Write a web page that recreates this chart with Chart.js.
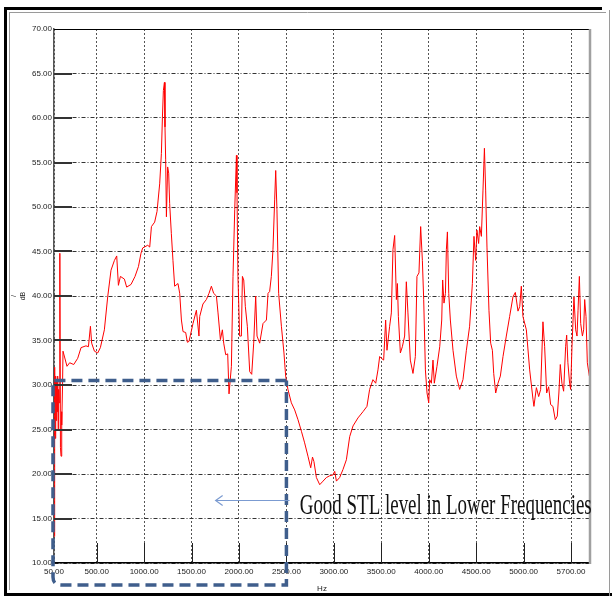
<!DOCTYPE html>
<html>
<head>
<meta charset="utf-8">
<title>STL</title>
<script src="https://cdn.jsdelivr.net/npm/chart.js@4.4.1/dist/chart.umd.min.js"></script>
<style>
  html, body { margin: 0; padding: 0; background: #fff; }
  canvas { display: block; }
</style>
</head>
<body>
<canvas id="stl" width="612" height="597"></canvas>
<script>
"use strict";

// frequency in Hz
let freqs = [
  50, 57, 63, 68, 73, 78, 84, 89, 94, 99, 105, 110, 113, 118, 124, 129, 134, 140, 145,
  187, 215, 258, 300, 335, 387, 413, 434, 447, 476, 511, 539, 581, 616, 651, 687, 711,
  729, 750, 792, 816, 862, 904, 940, 967, 985, 1038, 1059, 1077, 1111, 1136, 1164, 1182,
  1193, 1203, 1214, 1220, 1227, 1235, 1248, 1259, 1269, 1287, 1304, 1322, 1357, 1375,
  1393, 1410, 1438, 1456, 1473, 1488, 1515, 1551, 1578, 1586, 1620, 1656, 1684, 1709,
  1733, 1762, 1779, 1804, 1825, 1839, 1860, 1881, 1895, 1920, 1937, 1955, 1973, 1979,
  1989, 2007, 2025, 2036, 2050, 2067, 2088, 2113, 2134, 2155, 2176, 2190, 2218, 2253,
  2289, 2306, 2323, 2341, 2358, 2376, 2387, 2400, 2418, 2447, 2474, 2492, 2516, 2552,
  2587, 2622, 2658, 2692, 2727, 2756, 2775, 2790, 2816, 2851, 2886, 2921, 2956, 2991,
  3009, 3027, 3061, 3096, 3132, 3167, 3202, 3254, 3307, 3349, 3377, 3412, 3441, 3465,
  3483, 3501, 3525, 3546, 3560, 3588, 3606, 3623, 3641, 3659, 3670, 3680, 3701, 3722,
  3746, 3764, 3781, 3806, 3834, 3859, 3876, 3897, 3915, 3933, 3947, 3965, 3982, 4000,
  4010, 4028, 4045, 4059, 4087, 4116, 4137, 4147, 4161, 4176, 4186, 4197, 4211, 4228,
  4256, 4291, 4326, 4361, 4397, 4431, 4460, 4477, 4495, 4508, 4526, 4537, 4555, 4572,
  4587, 4600, 4614, 4635, 4653, 4671, 4685, 4706, 4730, 4755, 4783, 4818, 4853, 4888,
  4913, 4941, 4959, 4976, 4993, 5029, 5064, 5099, 5109, 5135, 5159, 5180, 5204, 5222,
  5243, 5264, 5285, 5309, 5334, 5355, 5372, 5387, 5404, 5422, 5443, 5454, 5467, 5485,
  5496, 5510, 5531, 5549, 5563, 5574, 5588, 5602, 5620, 5633, 5644, 5658, 5672, 5693
];

// sound transmission loss in dB, one per frequency above
let levels = [
  13.0, 32.0, 24.0, 31.0, 26.0, 30.5, 27.0, 31.0, 25.0, 29.5, 28.0, 33.0, 44.8, 23.0, 22.0, 27.0, 25.5, 30.0, 33.8,
  32.1, 32.5, 32.3, 33.0, 34.2, 34.4, 34.3, 36.6, 34.7, 33.8, 33.6, 34.2, 36.2, 39.9, 42.9, 44.0, 44.5,
  41.2, 42.2, 41.9, 41.0, 41.3, 42.2, 43.3, 44.8, 45.4, 45.7, 45.5, 47.8, 48.3, 49.5, 52.6, 56.0,
  60.1, 63.1, 64.0, 59.0, 55.3, 48.9, 54.5, 53.8, 50.4, 47.0, 44.0, 41.1, 41.4, 40.3,
  37.3, 36.0, 35.9, 34.8, 34.9, 35.6, 36.9, 38.4, 35.5, 37.7, 39.1, 39.6, 40.3, 41.1,
  40.3, 40.0, 38.1, 35.1, 36.2, 34.7, 33.4, 33.5, 29.0, 32.1, 42.2, 49.7, 55.8, 51.6,
  42.2, 35.5, 35.5, 42.2, 41.8, 38.8, 36.6, 31.5, 31.2, 34.7, 40.0, 35.5, 34.7, 36.9,
  37.3, 40.3, 40.5, 42.2, 45.2, 50.8, 54.1, 49.7, 40.3, 36.6, 33.6, 31.0, 29.5, 28.0,
  27.2, 26.1, 24.8, 23.5, 22.0, 20.7, 21.9, 21.4, 19.6, 18.8, 19.2, 19.6, 19.8, 19.9,
  20.3, 19.2, 19.6, 20.5, 21.6, 24.2, 25.4, 26.3, 27.0, 27.6, 29.5, 30.6, 30.2, 31.7,
  33.2, 33.0, 32.8, 37.3, 33.9, 36.6, 38.1, 45.2, 46.8, 39.6, 41.4, 37.7, 33.6, 34.3,
  35.5, 41.6, 38.1, 32.8, 31.3, 33.2, 42.2, 42.6, 47.8, 44.0, 39.6, 31.7, 29.1, 28.0,
  30.6, 30.2, 32.8, 30.2, 32.1, 34.3, 37.3, 41.8, 39.2, 40.3, 45.2, 47.2, 40.3, 37.3,
  33.9, 31.0, 29.5, 30.6, 33.9, 36.6, 41.4, 46.7, 44.0, 47.4, 45.9, 47.8, 46.7, 51.9,
  56.6, 51.9, 45.5, 38.4, 34.7, 33.9, 31.3, 29.1, 30.2, 31.0, 33.2, 35.5, 37.7, 39.9,
  40.4, 38.3, 38.8, 41.1, 37.7, 36.2, 31.7, 28.4, 27.6, 29.7, 28.7, 29.5, 37.1, 34.3,
  29.1, 29.8, 27.8, 27.6, 26.1, 26.5, 29.1, 32.3, 30.2, 29.3, 34.3, 35.6, 32.5, 30.2,
  29.5, 34.3, 39.9, 36.2, 35.5, 38.4, 42.2, 36.9, 35.5, 36.2, 39.6, 37.7, 32.5, 31.0
];

let xTickValues = [50, 500, 1000, 1500, 2000, 2500, 3000, 3500, 4000, 4500, 5000, 5500];
let xTickLabels = ['50.00', '500.00', '1000.00', '1500.00', '2000.00', '2500.00', '3000.00',
  '3500.00', '4000.00', '4500.00', '5000.00', '5700.00'];
let yTickValues = [10, 15, 20, 25, 30, 35, 40, 45, 50, 55, 60, 65, 70];

// the note box: low frequencies up to 2500 Hz, above 30.5 dB
let boxMaxHz = 2500;
let boxTopDb = 30.5;
let arrowFromHz = 2534;
let arrowToHz = 1754;
let arrowDb = 17.1;
let noteHz = 2640;
let noteDb = 15.5;
let noteText = 'Good STL level in Lower Frequencies';

let tickFont = { family: "'Liberation Sans Narrow', 'Liberation Sans', Arial, sans-serif", size: 8 };

let points = [];
for (let i = 0; i < freqs.length; i++) {
  points.push({ x: freqs[i], y: levels[i] });
}

let decorations = {
  id: 'decorations',
  beforeDraw(chart) {
    let ctx = chart.ctx;
    ctx.save();
    ctx.fillStyle = '#fff';
    ctx.fillRect(0, 0, chart.width, chart.height);
    // outer window frame
    ctx.fillStyle = '#000';
    ctx.fillRect(4, 7, 3, 589);
    ctx.fillRect(4, 7, 598, 3);
    ctx.fillRect(4, 593, 608, 3);
    ctx.strokeStyle = '#9a9a9a';
    ctx.lineWidth = 1;
    ctx.beginPath();
    ctx.moveTo(609.5, 10);
    ctx.lineTo(609.5, 596);
    ctx.moveTo(9.5, 12);
    ctx.lineTo(9.5, 590);
    ctx.moveTo(9, 12.5);
    ctx.lineTo(606, 12.5);
    ctx.stroke();
    ctx.restore();
  },
  afterDatasetsDraw(chart) {
    let ctx = chart.ctx;
    let xs = chart.scales.x;
    let ys = chart.scales.y;
    let area = chart.chartArea;
    ctx.save();

    // long solid ticks reaching into the plot
    ctx.strokeStyle = '#333';
    ctx.lineWidth = 2;
    yTickValues.forEach(function (v) {
      if (v === 10 || v === 70) return;
      let py = Math.round(ys.getPixelForValue(v));
      ctx.beginPath();
      ctx.moveTo(area.left, py);
      ctx.lineTo(area.left + 18, py);
      ctx.stroke();
    });
    ctx.strokeStyle = '#222';
    ctx.lineWidth = 1;
    xTickValues.slice(1).forEach(function (v) {
      let px = Math.round(xs.getPixelForValue(v)) + 0.5;
      ctx.beginPath();
      ctx.moveTo(px, area.bottom);
      ctx.lineTo(px, area.bottom - 20);
      ctx.stroke();
    });

    // top and right edges of the plot
    ctx.strokeStyle = '#000';
    ctx.lineWidth = 1;
    ctx.beginPath();
    ctx.moveTo(area.left, Math.round(area.top) + 0.5);
    ctx.lineTo(area.right, Math.round(area.top) + 0.5);
    ctx.stroke();
    ctx.strokeStyle = '#a0a0a0';
    ctx.lineWidth = 2.5;
    ctx.beginPath();
    ctx.moveTo(area.right, area.top);
    ctx.lineTo(area.right, area.bottom + 1);
    ctx.stroke();

    // dashed box round the low frequencies
    let left = xs.getPixelForValue(50) - 1;
    let right = xs.getPixelForValue(boxMaxHz);
    let top = ys.getPixelForValue(boxTopDb);
    let bottom = area.bottom + 22;
    ctx.strokeStyle = '#3f5e8c';
    ctx.lineWidth = 3.5;
    ctx.setLineDash([11, 6]);
    ctx.beginPath();
    ctx.moveTo(right, top);
    ctx.lineTo(left, top);
    ctx.lineTo(left, bottom - 8);
    ctx.quadraticCurveTo(left, bottom, left + 8, bottom);
    ctx.lineTo(right, bottom);
    ctx.lineTo(right, top);
    ctx.stroke();
    ctx.setLineDash([]);

    // arrow
    let ay = Math.round(ys.getPixelForValue(arrowDb)) + 0.5;
    let ax1 = xs.getPixelForValue(arrowFromHz);
    let ax2 = xs.getPixelForValue(arrowToHz);
    ctx.strokeStyle = '#7b9bd1';
    ctx.lineWidth = 1.2;
    ctx.beginPath();
    ctx.moveTo(ax1, ay);
    ctx.lineTo(ax2, ay);
    ctx.moveTo(ax2 + 7, ay - 5);
    ctx.lineTo(ax2, ay);
    ctx.lineTo(ax2 + 7, ay + 5);
    ctx.stroke();

    // note text, squeezed the way the original is
    let tx = xs.getPixelForValue(noteHz);
    let ty = ys.getPixelForValue(noteDb);
    ctx.font = '29px "Liberation Serif", "Times New Roman", serif';
    ctx.fillStyle = '#111';
    ctx.textBaseline = 'alphabetic';
    let w = ctx.measureText(noteText).width;
    let squeeze = 292 / w;
    ctx.translate(tx, ty);
    ctx.scale(squeeze, 1);
    ctx.fillText(noteText, 0, 0);
    ctx.restore();
  }
};

let config = {
  type: 'line',
  data: {
    datasets: [
      {
        label: 'STL',
        data: points,
        borderColor: '#ff0000',
        borderWidth: 1,
        pointRadius: 0,
        tension: 0,
        fill: false
      }
    ]
  },
  options: {
    responsive: false,
    animation: false,
    devicePixelRatio: 1,
    layout: { padding: { top: 29, right: 22, left: 0, bottom: 0 } },
    plugins: {
      legend: { display: false },
      tooltip: { enabled: false }
    },
    scales: {
      x: {
        type: 'linear',
        min: 50,
        max: 5700,
        afterBuildTicks: function (scale) {
          scale.ticks = xTickValues.map(function (v) { return { value: v }; });
        },
        afterFit: function (scale) { scale.height = 34; },
        ticks: {
          autoSkip: false,
          maxRotation: 0,
          padding: 4,
          color: '#222',
          font: tickFont,
          callback: function (value, index) { return xTickLabels[index]; }
        },
        grid: { color: '#555', lineWidth: 1, drawTicks: false },
        border: { display: true, color: '#000', width: 1.5, dash: [2, 2] },
        title: {
          display: true,
          text: 'Hz',
          color: '#222',
          font: { family: "'Liberation Sans', Arial, sans-serif", size: 8 },
          padding: { top: 0, bottom: 3 }
        }
      },
      y: {
        min: 10,
        max: 70,
        afterBuildTicks: function (scale) {
          scale.ticks = yTickValues.map(function (v) { return { value: v }; });
        },
        afterFit: function (scale) { scale.width = 54; },
        ticks: {
          padding: 2,
          color: '#222',
          font: tickFont,
          callback: function (value) { return value.toFixed(2); }
        },
        grid: { color: '#333', lineWidth: 1, drawTicks: false },
        border: { display: true, color: '#555', width: 1.5, dash: [4, 2, 1, 2] },
        title: {
          display: true,
          text: ['/', 'dB'],
          color: '#222',
          font: { family: "'Liberation Sans', Arial, sans-serif", size: 7 },
          padding: { top: 10, bottom: 0 }
        }
      }
    }
  },
  plugins: [decorations]
};

let stlChart = new Chart(document.getElementById('stl'), config);
</script>
</body>
</html>
